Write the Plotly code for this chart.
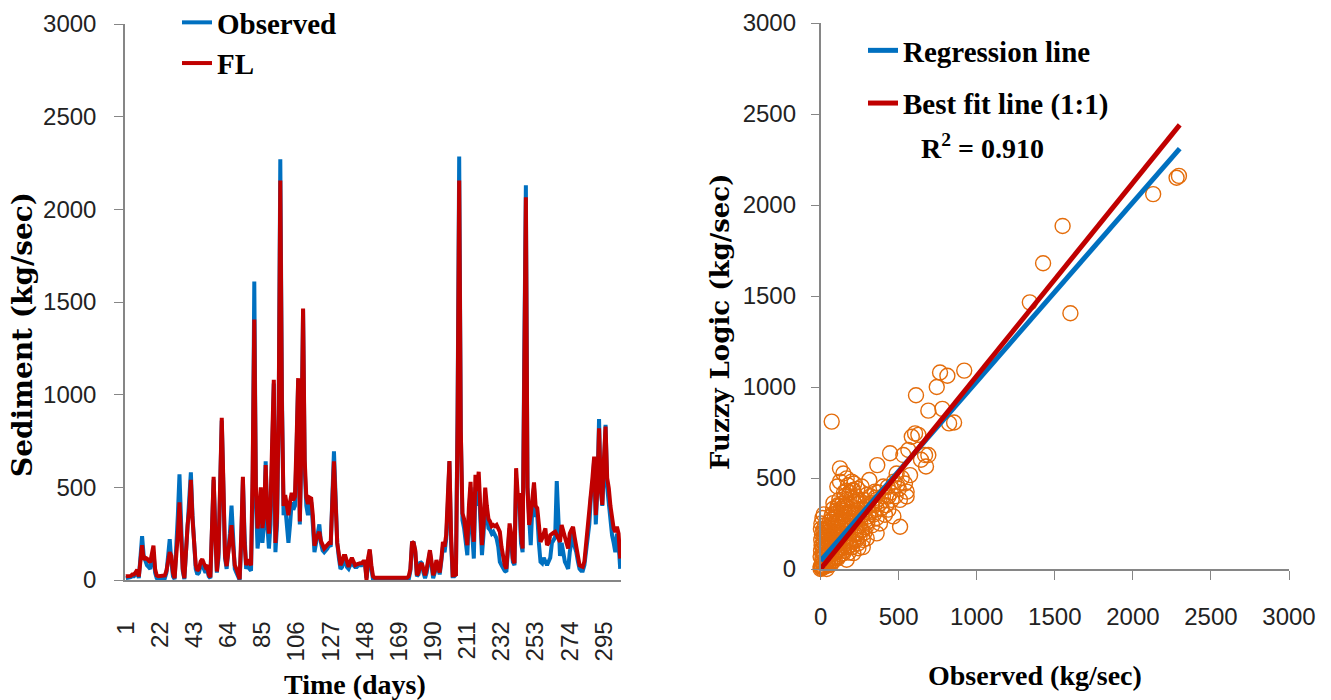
import plotly.graph_objects as go

W, H = 1331, 700

# ---- daily sediment series (kg/sec) ----
days = list(range(1, 306))

observed = [
    10, 10, 12, 15, 20, 20, 30, 48, 10, 120,
    237, 130, 95, 80, 70, 60, 110, 150, 40, 10,
    5, 5, 5, 10, 10, 40, 120, 220, 100, 20,
    5, 150, 350, 570, 300, 50, 5, 150, 250, 400,
    581, 350, 150, 60, 30, 40, 80, 90, 60, 40,
    60, 20, 10, 250, 540, 300, 40, 120, 450, 860,
    500, 120, 60, 150, 250, 402, 200, 60, 40, 20,
    0, 200, 540, 250, 60, 90, 60, 50, 500, 1610,
    450, 170, 250, 400, 200, 300, 640, 300, 170, 300,
    700, 1060, 150, 300, 900, 2270, 1000, 350, 400, 300,
    200, 300, 420, 380, 400, 700, 1080, 300, 700, 1460,
    600, 400, 350, 400, 420, 300, 150, 200, 260, 300,
    200, 160, 150, 160, 170, 190, 180, 450, 694, 450,
    200, 120, 60, 70, 100, 110, 70, 60, 80, 100,
    80, 70, 70, 80, 80, 80, 90, 100, 10, 100,
    160, 60, 5, 0, 0, 2, 0, 0, 3, 0,
    0, 0, 2, 0, 0, 0, 0, 3, 0, 0,
    0, 2, 0, 0, 5, 50, 200, 200, 150, 20,
    30, 98, 90, 40, 10, 40, 100, 150, 80, 10,
    40, 90, 70, 30, 100, 180, 150, 220, 400, 640,
    200, 20, 20, 30, 900, 2285, 800, 323, 280, 200,
    134, 350, 500, 250, 116, 500, 400, 520, 300, 134,
    250, 450, 350, 280, 270, 250, 260, 240, 224, 180,
    98, 80, 62, 50, 44, 150, 280, 200, 98, 80,
    550, 400, 420, 200, 150, 1200, 2130, 500, 280, 188,
    400, 500, 350, 350, 200, 98, 90, 120, 100, 80,
    100, 120, 200, 220, 230, 534, 300, 130, 200, 150,
    98, 80, 60, 150, 220, 260, 180, 150, 100, 60,
    50, 50, 80, 150, 250, 300, 450, 500, 650, 300,
    500, 869, 500, 400, 600, 837, 500, 420, 300, 242,
    200, 150, 250, 200, 60,
]

fuzzy = [
    20, 20, 20, 22, 30, 30, 40, 55, 18, 100,
    188, 110, 120, 115, 100, 95, 140, 185, 60, 25,
    20, 20, 20, 20, 25, 50, 90, 150, 130, 40,
    10, 120, 250, 419, 250, 60, 10, 180, 296, 380,
    540, 330, 180, 80, 50, 60, 100, 112, 90, 70,
    80, 30, 15, 300, 557, 250, 46, 150, 500, 875,
    520, 130, 75, 150, 220, 296, 180, 80, 60, 30,
    5, 250, 557, 200, 80, 110, 90, 80, 600, 1405,
    500, 278, 350, 500, 280, 350, 620, 350, 250, 400,
    750, 1080, 200, 350, 900, 2155, 950, 400, 458, 400,
    350, 420, 470, 430, 450, 750, 1089, 316, 750, 1465,
    650, 445, 410, 445, 440, 350, 185, 220, 240, 260,
    210, 185, 170, 180, 190, 200, 200, 450, 640, 420,
    200, 140, 80, 100, 130, 130, 90, 70, 100, 120,
    100, 80, 85, 90, 90, 90, 100, 100, 0, 120,
    165, 80, 20, 12, 10, 12, 12, 10, 12, 12,
    12, 10, 12, 12, 12, 12, 10, 12, 12, 12,
    12, 10, 12, 12, 20, 60, 206, 200, 160, 26,
    40, 80, 90, 50, 26, 60, 120, 161, 100, 26,
    50, 107, 80, 40, 110, 206, 180, 242, 450, 642,
    250, 26, 26, 30, 850, 2155, 800, 360, 330, 250,
    188, 400, 530, 300, 206, 567, 480, 584, 350, 188,
    300, 498, 400, 330, 315, 290, 297, 290, 297, 280,
    260, 180, 116, 80, 62, 180, 305, 250, 116, 90,
    603, 459, 459, 250, 170, 1100, 2065, 500, 297, 350,
    450, 527, 400, 387, 300, 206, 224, 250, 278, 188,
    200, 242, 251, 255, 260, 242, 220, 206, 297, 270,
    242, 200, 170, 251, 270, 287, 230, 188, 130, 80,
    75, 71, 100, 188, 280, 332, 450, 558, 666, 350,
    500, 819, 500, 405, 650, 828, 550, 495, 400, 350,
    278, 260, 287, 250, 116,
]

day_ticks = [1, 22, 43, 64, 85, 106, 127, 148, 169, 190, 211, 232, 253, 274, 295]

# ---- observed vs fuzzy-logic pairs for the scatter panel ----
scatter_obs = [
    2280, 2295, 2130, 1600, 1550, 1425, 1340,
    920, 812, 765, 744, 611, 690, 780, 823, 855, 71,
    605, 626, 584, 669, 690, 643, 675, 445, 530, 562, 573, 363, 312, 509,
    124, 146, 167, 199, 124, 107, 210, 263, 295, 348, 402, 434, 455, 487,
    551, 551, 508, 434, 391, 466, 412, 359, 306, 263, 242, 295, 242, 210,
    188, 146, 103, 82, 114, 167, 231, 242, 284, 327, 359, 39, 17, 60, 146,
    82, 167, 0, 0, 17, 39, 0,
    5, 8, 10, 12, 15, 18, 20, 22, 25, 28, 3, 6, 4, 9, 30, 35, 40, 45, 50, 55,
    60, 65, 70, 75, 80, 85, 90, 95, 100, 105, 110, 115, 120, 125, 130, 135,
    140, 145, 150, 155, 160, 165, 170, 175, 180, 185, 190, 195, 200, 205, 210,
    215, 220, 225, 230, 235, 240, 250, 255, 260, 270, 275, 280, 285, 290, 300,
    310, 320, 330, 340, 350, 360, 370, 380, 400, 420, 430, 450, 470, 480, 490,
    500, 520, 540, 60, 50, 40, 70, 80, 90, 100, 110, 120, 130, 140, 150, 160,
    170, 180, 190, 200, 210, 220, 230, 240, 250, 260, 270, 280, 290, 300,
    25, 35, 45, 55, 65, 75, 85, 95, 105, 115, 125, 135, 145, 155, 165, 175,
    185, 195, 205, 215, 225, 235, 245, 10, 15, 20, 30, 45, 55, 65, 75,
    2, 5, 12, 20, 30, 40, 50, 60, 70, 80, 90, 100, 110, 120, 130, 140, 150,
    160, 170, 180, 190, 200, 10, 20, 35, 45, 55, 65, 85, 95, 330, 359, 380, 270,
]

scatter_fl = [
    2150, 2160, 2060, 1405, 1885, 1680, 1465,
    1090, 1062, 1080, 1000, 955, 870, 880, 800, 805, 810,
    745, 737, 727, 626, 626, 600, 563, 636, 626, 654, 516, 571, 489, 232,
    553, 525, 498, 480, 480, 453, 434, 453, 407, 425, 453, 398, 380, 525,
    425, 398, 380, 326, 335, 289, 298, 280, 289, 214, 196, 168, 114, 87,
    132, 196, 307, 362, 344, 380, 380, 307, 326, 362, 380, 196, 214, 160, 87,
    60, 51, 69, 14, 32, 0, 0,
    5, 20, 40, 60, 90, 120, 150, 180, 210, 240, 100, 130, 160, 190, 30, 60, 90, 120, 150, 180,
    210, 240, 270, 300, 330, 250, 220, 190, 160, 130, 100, 70, 140, 170, 200, 230,
    260, 290, 320, 350, 300, 270, 240, 210, 180, 150, 250, 280, 310, 340, 370,
    300, 260, 230, 200, 270, 330, 360, 250, 290, 330, 380, 300, 360, 270, 340,
    310, 400, 350, 300, 390, 330, 420, 360, 400, 350, 450, 420, 480, 400, 460,
    440, 500, 470, 40, 20, 30, 80, 110, 50, 90, 60, 110, 80, 120, 100, 140,
    120, 90, 130, 120, 150, 190, 160, 140, 180, 210, 160, 200, 230, 260,
    70, 110, 80, 100, 130, 150, 170, 200, 230, 260, 280, 310, 340, 400, 430, 460,
    420, 390, 430, 470, 400, 440, 380, 10, 30, 10, 15, 45, 60, 25, 40,
    220, 250, 280, 300, 180, 200, 230, 260, 290, 200, 280, 320, 350, 380, 330, 360, 420,
    180, 340, 310, 200, 250, 130, 80, 140, 170, 140, 170, 120, 140, 240, 196, 250, 120,
]

# fitted lines: endpoints on the observed axis and the corresponding model values
line_x = [0, 2300]
regression_y = [45, 2310]
bestfit_y = [0, 2440]

BLUE = "#0070C0"
RED = "#C00000"
ORANGE = "#E46C0A"
AXIS = "#868686"
SERIF = "Liberation Serif"
SANS = "Liberation Sans"

fig = go.Figure()

fig.add_trace(go.Scatter(
    x=days, y=observed, mode="lines", name="Observed",
    line=dict(color=BLUE, width=4), xaxis="x", yaxis="y", legend="legend",
))
fig.add_trace(go.Scatter(
    x=days, y=fuzzy, mode="lines", name="FL",
    line=dict(color=RED, width=4), xaxis="x", yaxis="y", legend="legend",
))

fig.add_trace(go.Scatter(
    x=scatter_obs, y=scatter_fl, mode="markers", showlegend=False,
    marker=dict(symbol="circle-open", size=15, color=ORANGE, line=dict(width=1.4)),
    xaxis="x2", yaxis="y2", cliponaxis=False,
))
fig.add_trace(go.Scatter(
    x=line_x, y=regression_y, mode="lines", name="Regression line",
    line=dict(color=BLUE, width=5), xaxis="x2", yaxis="y2",
    legend="legend2", legendgroup="reg",
))
fig.add_trace(go.Scatter(
    x=line_x, y=bestfit_y, mode="lines", name="Best fit line (1:1)",
    line=dict(color=RED, width=5), xaxis="x2", yaxis="y2",
    legend="legend2", legendgroup="fit",
))


def px_x(p):
    return p / W


def px_y(p):
    return 1 - p / H


axis_common = dict(
    showline=True, linecolor=AXIS, linewidth=1.5, showgrid=False,
    zeroline=False, tickcolor=AXIS, automargin=False,
)
tick_font = dict(family=SANS, size=24, color="#222222")

fig.update_layout(
    width=W, height=H,
    margin=dict(l=0, r=0, t=0, b=0, autoexpand=False),
    paper_bgcolor="white", plot_bgcolor="white",
    xaxis=dict(
        domain=[px_x(125), px_x(621)], range=[0.5, 305.5], anchor="y",
        tickmode="array", tickvals=day_ticks, tickangle=-90,
        ticks="", ticklabelstandoff=30, tickfont=tick_font,
        **axis_common,
    ),
    yaxis=dict(
        domain=[px_y(580), px_y(24)], range=[0, 3000], anchor="x",
        dtick=500, ticks="outside", ticklen=9, ticklabelstandoff=13,
        tickfont=tick_font, **axis_common,
    ),
    xaxis2=dict(
        domain=[px_x(820.6), px_x(1289)], range=[0, 3000], anchor="y2",
        dtick=500, ticks="outside", ticklen=9, ticklabelstandoff=16,
        tickfont=tick_font, **axis_common,
    ),
    yaxis2=dict(
        domain=[px_y(569), px_y(23)], range=[0, 3000], anchor="x2",
        dtick=500, ticks="outside", ticklen=8, ticklabelstandoff=10,
        tickfont=tick_font, **axis_common,
    ),
    legend=dict(
        x=px_x(177), y=px_y(-3), xanchor="left", yanchor="top",
        bgcolor="rgba(0,0,0,0)", tracegroupgap=0,
        font=dict(family=SERIF, size=29, color="black", weight="bold"),
    ),
    legend2=dict(
        x=px_x(863), y=px_y(25), xanchor="left", yanchor="top",
        bgcolor="rgba(0,0,0,0)", tracegroupgap=12,
        font=dict(family=SERIF, size=29, color="black", weight="bold"),
    ),
    showlegend=True,
)

title_font = dict(family=SERIF, size=28, color="black", weight="bold")

fig.add_annotation(
    text="Sediment (kg/sec)", xref="paper", yref="paper",
    x=px_x(22), y=px_y(335), textangle=-90, showarrow=False,
    xanchor="center", yanchor="middle",
    font=dict(family="DejaVu Serif", size=28, color="black", weight="bold"),
)
fig.add_annotation(
    text="Fuzzy Logic (kg/sec)", xref="paper", yref="paper",
    x=px_x(720), y=px_y(322), textangle=-90, showarrow=False,
    xanchor="center", yanchor="middle",
    font=dict(family="DejaVu Serif", size=26, color="black", weight="bold"),
)
fig.add_annotation(
    text="Time (days)", xref="paper", yref="paper",
    x=px_x(355), y=px_y(684), showarrow=False,
    xanchor="center", yanchor="middle", font=title_font,
)
fig.add_annotation(
    text="Observed (kg/sec)", xref="paper", yref="paper",
    x=px_x(1035), y=px_y(675), showarrow=False,
    xanchor="center", yanchor="middle", font=title_font,
)
fig.add_annotation(
    text="R<sup>2</sup> = 0.910", xref="paper", yref="paper",
    x=px_x(982), y=px_y(146), showarrow=False,
    xanchor="center", yanchor="middle", font=title_font,
)

fig.write_html("out.html")
